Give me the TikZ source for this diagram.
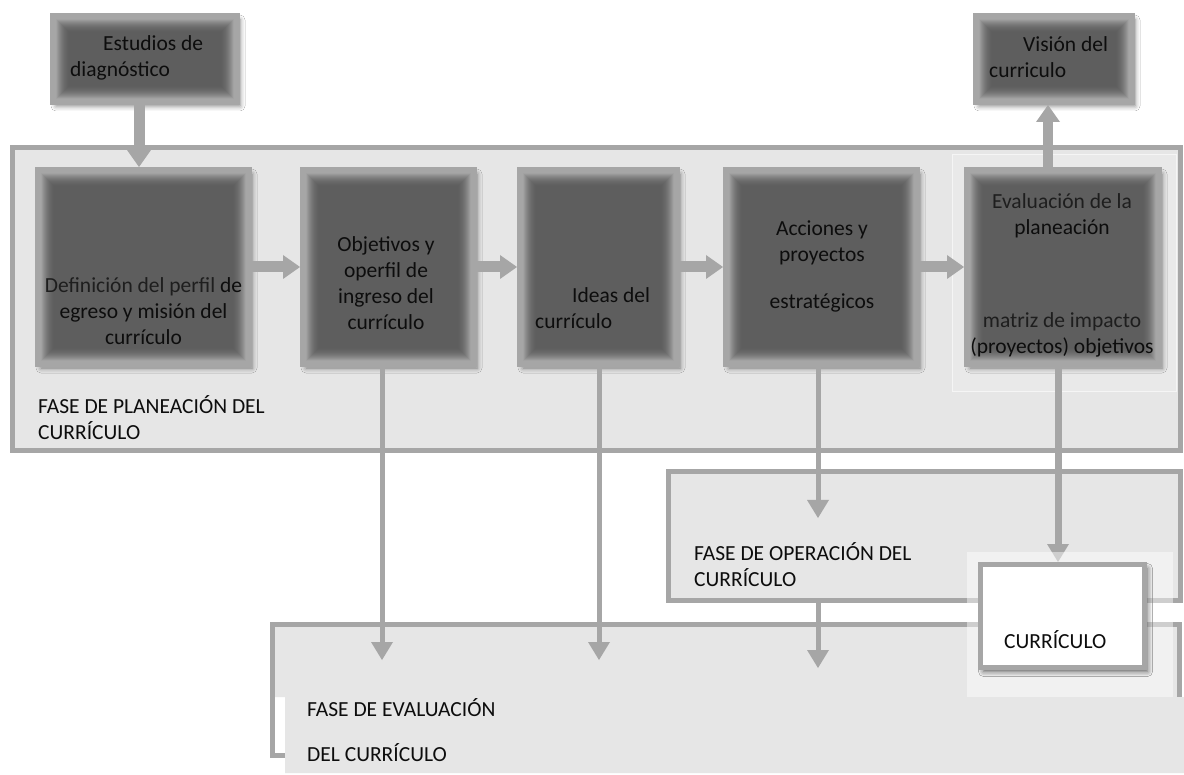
\documentclass[tikz,border=0pt]{standalone}
\usepackage{fontspec}
\setmainfont{Carlito}
\usetikzlibrary{arrows.meta,shadows.blur,calc}
\definecolor{bord}{HTML}{A6A6A6}
\definecolor{dark}{HTML}{5E5E5E}
\definecolor{glow}{HTML}{A2A2A2}
\definecolor{pale}{HTML}{E6E6E6}
\definecolor{paler}{HTML}{E9E9E9}
\definecolor{ink}{HTML}{0D0D0D}
\definecolor{lt}{HTML}{1E1E1E}
\tikzset{
  dbox/.style={rectangle, draw=bord, line width=6pt, fill=dark, inner sep=0pt,
    blur shadow={shadow xshift=3pt, shadow yshift=-4pt, shadow blur radius=5pt, shadow opacity=50},
    path picture={
      \foreach \k in {0,...,13}{
        \pgfmathsetmacro\pc{100*(1-\k/14)*(1-\k/14)}
        \draw[line width=1.1pt, draw=glow!\pc!dark]
          ([xshift={3.5pt+\k*1pt}, yshift={-3.5pt-\k*1pt}]path picture bounding box.north west)
          rectangle ([xshift={-3.5pt-\k*1pt}, yshift={3.5pt+\k*1pt}]path picture bounding box.south east);
      }
    }},
  phase/.style={rectangle, draw=bord, line width=5pt, fill=pale, inner sep=0pt},
  wbox/.style={rectangle, draw=bord, line width=5pt, fill=white, inner sep=0pt,
    blur shadow={shadow xshift=3pt, shadow yshift=-4pt, shadow blur radius=5pt, shadow opacity=45}},
  txt/.style={font=\fontsize{21.5}{26}\selectfont, text=ink, inner sep=0pt, align=center},
  tarr/.style={draw=bord, line width=11pt, -{Triangle[width=24pt,length=17pt,line width=0pt]}},
  tharr/.style={draw=bord, line width=5pt, -{Triangle[width=22pt,length=18pt,line width=0pt]}},
}
\begin{document}
\begin{tikzpicture}[x=1pt,y=-1pt]
\useasboundingbox (0,0) rectangle (1184,775);
\fill[white] (0,0) rectangle (1184,775);

% planning phase
\node[phase, minimum width=1167.5pt, minimum height=303pt] (plan) at (596.25,299) {};
\draw[white!60!pale, line width=1pt, fill=paler] (952,155) rectangle (1176,392);
\node[txt, anchor=west, align=left] (tplan) at (38,417.5) {FASE DE PLANEACIÓN DEL\\CURRÍCULO};

% dark boxes
\node[dbox, minimum width=184pt, minimum height=86pt] (est) at (145,59) {};
\node[dbox, minimum width=156pt, minimum height=86pt] (vis) at (1054,59) {};
\node[dbox, minimum width=211pt, minimum height=194pt] (b1) at (143.5,267) {};
\node[dbox, minimum width=171pt, minimum height=194pt] (b2) at (388.5,267) {};
\node[dbox, minimum width=157pt, minimum height=194pt] (b3) at (598.5,267) {};
\node[dbox, minimum width=191pt, minimum height=194pt] (b4) at (821.5,267) {};
\node[dbox, minimum width=192pt, minimum height=194pt] (b5) at (1063,267) {};

\node[txt, anchor=west, align=left] (test) at (70,57.5) {\hspace*{33pt}Estudios de\\diagnóstico};
\node[txt, anchor=west, align=left] (tvis) at (989,57.5) {\hspace*{34pt}Visión del\\curriculo};
\node[txt] (t1) at (143.5,311.5) {\textcolor{lt}{Definición del perfil} de\\egreso y misión del\\currículo};
\node[txt] (t2) at (386,283.5) {Objetivos y\\operfil de\\ingreso del\\currículo};
\node[txt, anchor=west, align=left] (t3) at (535,308.5) {\hspace*{37pt}Ideas del\\currículo};
\node[txt] (t4) at (822,266.5) {Acciones y\\proyectos\\[21pt]estratégicos};
\node[txt] (t5a) at (1062,215.5) {\textcolor{lt}{Evaluación de la}\\planeación};
\node[txt] (t5b) at (1062,335) {\textcolor{lt}{matriz de impacto}\\(proyectos) objetivos};

% thick arrows
\draw[tarr] ([xshift=-6pt]est.south) -- ([xshift=-6pt]est.south |- b1.north);
\draw[tarr] (b1.east) -- (b2.west);
\draw[tarr] (b2.east) -- (b3.west);
\draw[tarr] (b3.east) -- (b4.west);
\draw[tarr] (b4.east) -- (b5.west);
\draw[tarr, line width=10pt] ([xshift=-15pt]b5.north) -- ([xshift=-15pt]b5.north |- vis.south);

% operation phase
\node[phase, minimum width=511.5pt, minimum height=129pt] (oper) at (924.25,536) {};
\node[txt, anchor=west, align=left] (toper) at (694,565) {FASE DE OPERACIÓN DEL\\CURRÍCULO};

% evaluation phase
\fill[pale] (275,627) -- (1180,627) -- (1180,697) -- (1184,697) -- (1184,773) -- (285,773) -- (285,697) -- (275,697) -- cycle;
\draw[bord, line width=5pt, line join=miter] (285,755) -- (272.5,755) -- (272.5,624.5) -- (1179.5,624.5) -- (1179.5,697);
\node[txt, anchor=west, align=left, font=\fontsize{21.5}{45}\selectfont] (teval) at (307,730.5) {FASE DE EVALUACIÓN\\DEL CURRÍCULO};

% arrow end points
\coordinate (e2) at (382,660);
\coordinate (e3) at (599,660);
\coordinate (o4) at (818,518);
\coordinate (e4) at (818,668);

\draw[tharr] (e2 |- b2.south) -- (e2);
\draw[tharr] (e3 |- b3.south) -- (e3);
\draw[tharr] (o4 |- b4.south) -- (o4);
\draw[tharr] (e4 |- oper.south) -- (e4);

% curriculum box
\node[wbox, minimum width=164pt, minimum height=103pt] (cur) at (1062.5,616) {};
\draw[tharr, line width=7pt] ([xshift=-5pt]b5.south) -- ([xshift=-5pt]b5.south |- cur.north);
\fill[white, opacity=0.45] (967,552) rectangle (1173,697);
\node[wbox, minimum width=164pt, minimum height=103pt] (cur2) at (cur) {};
\node[txt, anchor=west] (tcur) at (1004,640) {CURRÍCULO};
\end{tikzpicture}
\end{document}
